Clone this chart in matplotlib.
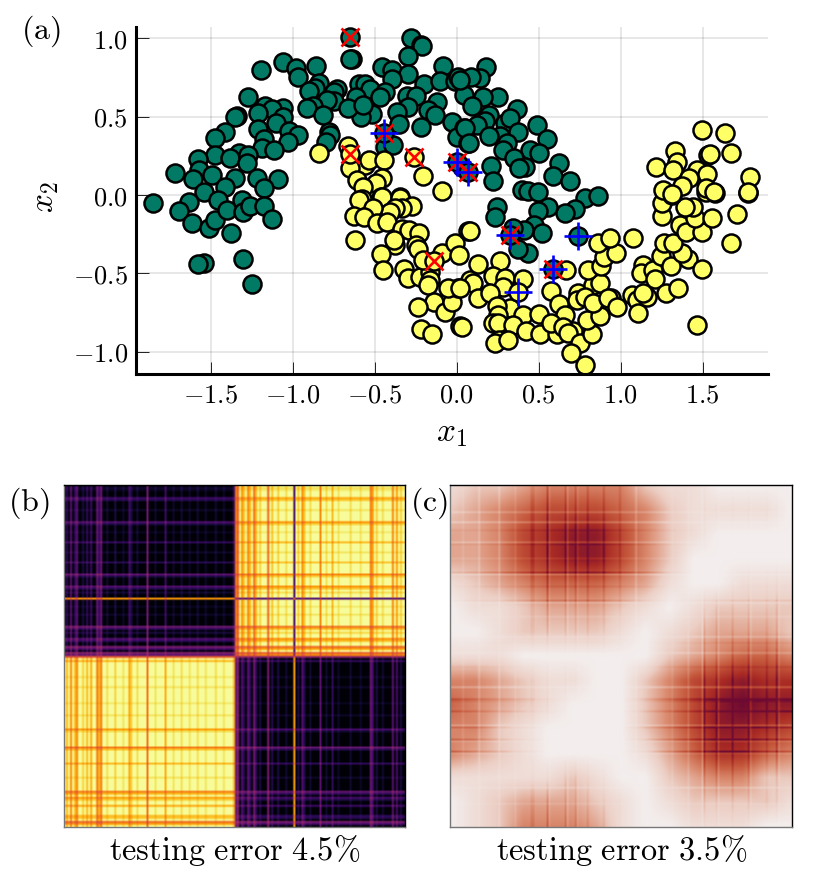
import numpy as np
import matplotlib
matplotlib.use('Agg')
import matplotlib.pyplot as plt
from matplotlib.colors import LinearSegmentedColormap

plt.rcParams['mathtext.fontset'] = 'cm'

# panel (a) points
green_x = [-.28,-.22,-.21,-.295,-.457,-.396,-.295,-.396,-.2,-.085,-.1,-.01,.01,-1.057,-.98,-1.195,-.97,-.858,-.837,-.864,-.9,-.73,-.748,-.748,-.793,-.593,-.559,-.528,-.616,-.437,-.467,-.305,-.248,-.295,-.122,-.177,-.132,-.366,-.35,-.217,-.03,.047,0,.07,-.518,-.585,-.66,-.569,-.874,-.915,-.813,-1.27,-1.169,-1.057,-1.128,-1.209,-1.341,-1.351,-1.057,-1.104,-1.209,-1.02,-.965,-1.026,-1.173,-1.413,-1.474,-1.189,-1.114,-.778,-.772,-.797,-1.327,-1.474,-1.382,-1.27,-1.28,-1.579,-1.717,-1.571,-1.606,-1.49,-1.35,-1.22,-1.087,-1.173,-1.413,-1.54,-1.85,-1.63,-1.693,-1.612,-1.508,-1.474,-1.457,-1.402,-1.311,-1.305,-1.26,-1.173,-1.124,-1.376,-1.301,-1.541,-1.575,-1.25,-.64,-.65,-.437,-.386,.179,.142,.087,.254,.159,.047,.091,.02,.199,.366,.173,.122,.051,.295,.325,.376,.264,.197,.309,.285,.488,.553,.447,.502,.352,.42,.382,.626,.585,.691,.209,.22,.077,.396,.437,.498,.783,.864,.722,.661,.559,.494,.472,.518,.244,.234,.437,.376,.413,.346,.03]
green_y = [1.0,.96,.95,.89,.82,.80,.77,.74,.71,.825,.73,.73,.755,.85,.81,.795,.75,.825,.717,.68,.664,.674,.66,.6,.606,.708,.708,.674,.628,.655,.623,.632,.634,.564,.596,.543,.51,.532,.451,.436,.468,.426,.372,.33,.517,.5,.553,.574,.568,.557,.51,.628,.57,.557,.549,.521,.506,.5,.496,.457,.419,.41,.383,.34,.357,.404,.362,.298,.287,.404,.383,.34,.27,.255,.238,.255,.202,.23,.143,.16,.1,.128,.11,.11,.1,.043,.053,.02,-.053,-.043,-.102,-.177,-.209,-.16,-.032,-.096,-.032,-.106,-.068,-.068,-.155,-.245,-.411,-.432,-.44,-.568,.87,.87,.309,.319,.819,.745,.755,.628,.623,.638,.57,.734,.511,.547,.474,.447,.426,.457,.489,.404,.377,.377,.334,.287,.447,.355,.287,.27,.238,.181,.174,.202,.123,.091,.187,.091,.33,.032,.026,.021,-.021,-.006,-.089,-.113,-.079,-.1,-.191,-.245,-.074,-.138,-.368,-.347,-.223,-.213,.18]
yellow_x = [-.839,-.665,-.559,-.533,-.443,-.65,-.61,-.453,-.492,-.262,-.203,-.087,-.569,-.463,-.346,-.579,-.593,-.457,-.346,-.274,-.335,-.376,-.407,-.508,-.626,-.563,-.488,-.427,-.335,-.289,-.23,-.618,-.376,-.38,-.25,-.234,-.463,-.447,-.319,-.299,-.224,-.163,-.163,-.173,-.203,-.087,-.01,.014,.067,-.138,-.234,-.071,-.026,.01,-.051,.08,-.22,-.152,.02,.081,.132,.264,.098,.02,.132,.22,.295,.402,.285,.203,.325,.244,.407,.254,.224,.254,.346,.421,.508,.502,.573,.624,.661,.61,.707,.26,.234,.315,.03,.573,.65,.681,.752,.697,.783,.827,.793,.874,.742,.833,.874,.803,.878,.898,.972,.864,.935,.667,.732,.782,.833,.941,.925,.976,1.067,1.098,1.104,1.159,1.138,1.073,1.134,1.124,1.2,1.209,1.276,1.352,1.246,1.305,1.408,1.498,1.372,1.264,1.321,1.362,1.396,1.498,1.453,1.559,1.443,1.392,1.254,1.254,1.311,1.711,1.671,1.467,1.518,1.575,1.778,1.496,1.634,1.673,1.333,1.346,1.216,1.321,1.53,1.545,1.467,1.524,1.419,1.376,1.26,1.311,1.518,1.569,1.789,1.775,-.65,-.136,.376]
yellow_y = [.266,.315,.191,.223,.223,.17,.096,.106,.074,.245,.123,.026,.053,-.01,-.01,-.026,-.032,-.015,-.021,-.068,-.085,-.085,-.106,-.085,-.132,-.143,-.177,-.17,-.217,-.223,-.245,-.287,-.319,-.287,-.319,-.345,-.379,-.479,-.472,-.532,-.521,-.489,-.543,-.574,-.415,-.372,-.304,-.383,-.228,-.681,-.713,-.749,-.681,-.591,-.591,-.543,-.857,-.887,-.836,-.228,-.44,-.419,-.56,-.596,-.655,-.515,-.528,-.538,-.585,-.628,-.723,-.706,-.766,-.766,-.819,-.819,-.83,-.868,-.889,-.762,-.613,-.698,-.766,-.887,-.868,-.926,-.947,-.926,-.84,-.819,-.84,-.883,-.947,-1.011,-1.085,-.889,-.798,-.772,-.628,-.574,-.564,-.479,-.453,-.394,-.372,-.304,-.277,-.479,-.67,-.649,-.691,-.66,-.66,-.713,-.638,-.67,-.751,-.649,-.628,-.277,-.447,-.5,-.479,-.538,-.628,-.591,-.387,-.453,-.409,-.474,-.372,-.309,-.309,-.191,-.238,-.238,-.149,-.149,-.079,-.074,-.134,-.049,0,-.121,-.309,-.828,.021,.01,.011,.415,.398,.27,.283,.213,.177,.16,.255,.262,.16,.134,.106,.057,.032,.006,.043,.017,.117,.017,.262,-.419,-.617]
# support points drawn over the rest
marked_x = [-.65,-.443,0,.071,.325,.742,.589]
marked_y = [1.01,.398,.213,.145,-.255,-.262,-.472]
red_x = [-.65,-.443,-.65,-.262,0,.071,.325,.589,-.136]
red_y = [1.01,.398,.262,.245,.213,.145,-.255,-.472,-.419]
blue_x = [-.443,0,.071,.325,.742,.589,.376]
blue_y = [.398,.213,.145,-.255,-.262,-.472,-.617]

xticks = [-1.5,-1.0,-0.5,0.0,0.5,1.0,1.5]
yticks = [-1.0,-0.5,0.0,0.5,1.0]

# panel (b): row and column weights, sign gives the class
n_b = 170
split_b = 85
row_idx_b = [1,2,6,7,12,18,19,23,28,33,38,44,45,50,51,53,56,60,64,70,71,73,76,77,80,81,83,84,85,87,95,100,108,114,121,122,130,131,138,145,152,153,155,156,159,164,165,167,168]
row_w_b = [.85,.9,.65,.75,.88,.55,.8,.9,.7,.88,.75,.5,.8,.55,.75,.85,-.55,.9,.88,.4,.7,.82,.55,.7,.35,.6,.3,.5,.3,.7,.9,.88,.9,.88,.6,.85,.45,.75,.7,.88,.45,.7,.6,.8,.65,.7,.75,.35,.6]
col_idx_b = [1,3,5,6,9,11,13,16,17,18,21,25,29,32,33,36,41,45,50,54,58,62,66,70,75,79,84,85,86,88,89,91,92,94,95,97,101,103,106,110,114,116,118,119,122,127,130,133,136,142,147,152,153,155,158,163,165,167]
col_w_b = [.7,.5,.7,.5,.8,.7,.65,.45,.7,.45,.85,.8,.88,.65,.8,.85,.4,.88,.65,.88,.85,.88,.85,.88,.85,.88,.7,.45,.3,.55,.75,.5,.7,.4,.7,.8,.35,.75,.8,.85,-.6,.8,.55,.75,.85,.5,.85,.7,.88,.85,.88,.45,.6,.8,.85,.5,.6,.8]

# panel (c): coarse strength grid 0-9, then row and column line factors
grid_c = ['122344442110000',
          '234566654211110',
          '334678864210000',
          '334678864200000',
          '123455543100111',
          '011233321012222',
          '001222210123332',
          '111000000234554',
          '443211002467877',
          '543210002468988',
          '442100002468876',
          '432100001357754',
          '111112100234422',
          '012333210122221',
          '012444310011100']
row_idx_c = [13,18,22,28,29,36,43,44,50,57,58,65,75,78,83,90,100,106,107,112,119,120,126,127,132,133,150,158]
row_f_c = [.8,.75,1.1,.8,1.1,.9,1.25,.8,1.1,1.25,.8,.9,.8,1.1,.8,1.1,.75,1.25,1.1,1.2,.8,1.2,1.25,.9,1.3,.9,.8,.9]
col_idx_c = [6,14,24,32,40,41,48,49,57,58,62,63,68,76,84,92,110,118,125,126,132,133,140,148,149,157,162,163]
col_f_c = [.9,.8,.8,.9,1.15,1.15,1.3,.9,1.2,.85,1.2,.9,1.2,1.2,1.15,.8,.9,.85,.8,1.25,1.15,.85,1.2,1.2,.85,1.15,1.3,.85]

GREEN = '#007a64'
YELLOW = '#ffff66'
W, H = 822.0, 872.0

def make_axes(fig, left, top, right, bottom):
    return fig.add_axes([left/W, 1-bottom/H, (right-left)/W, (bottom-top)/H])

def weights(idx, w, n, base):
    out = np.full(n, base)
    out[idx] = w
    return out

def matrix_b():
    r = weights(row_idx_b, row_w_b, n_b, 0.985)
    c = weights(col_idx_b, col_w_b, n_b, 0.985)
    r[:split_b] *= -1
    c[split_b:] *= -1
    return 0.5 + 0.5*np.outer(r, c)

def matrix_c():
    grid = np.array([[int(ch) for ch in row] for row in grid_c], dtype=float)/9
    n = n_b
    nodes = np.linspace(0, 1, grid.shape[0])
    pos = np.linspace(0, 1, n)
    fine = np.array([np.interp(pos, nodes, row) for row in grid])
    fine = np.array([np.interp(pos, nodes, col) for col in fine.T]).T
    fr = weights(row_idx_c, row_f_c, n, 1.0)
    fc = weights(col_idx_c, col_f_c, n, 1.0)
    return fine*np.outer(fr, fc)

fig = plt.figure(figsize=(8.22, 8.72), dpi=100)

# (a) scatter
ax = make_axes(fig, 136, 26.7, 767.7, 374.3)
ax.plot(green_x, green_y, 'o', ms=13, mfc=GREEN, mec='k', mew=1.8, ls='none', clip_on=False)
ax.plot(yellow_x, yellow_y, 'o', ms=13, mfc=YELLOW, mec='k', mew=1.8, ls='none', clip_on=False)
ax.plot(marked_x, marked_y, 'o', ms=13, mfc=GREEN, mec='k', mew=1.8, ls='none', clip_on=False)
ax.plot(red_x, red_y, 'x', ms=13.5, mec='#ff0000', mew=1.9, ls='none', clip_on=False)
ax.plot(blue_x, blue_y, '+', ms=20, mec='#0000ff', mew=1.9, ls='none', clip_on=False)
ax.set_xlim(-1.955, 1.897)
ax.set_ylim(-1.144, 1.074)
ax.set_xticks(xticks)
ax.set_yticks(yticks)
ax.set_xticklabels(['$%.1f$' % t for t in xticks], fontsize=19)
ax.set_yticklabels(['$%.1f$' % t for t in yticks], fontsize=19)
ax.tick_params(direction='in', length=9, width=0.6, pad=6)
ax.grid(True, color='#000000', alpha=0.12, lw=1.1)
ax.set_axisbelow(True)
for s in ['top', 'right']:
    ax.spines[s].set_visible(False)
for s in ['left', 'bottom']:
    ax.spines[s].set_linewidth(2.2)
fig.text(451/W, 1-432/H, '$x_1$', fontsize=24, ha='center', va='center')
fig.text(44/W, 1-197/H, '$x_2$', fontsize=24, ha='center', va='center', rotation=90)
fig.text(41/W, 1-31/H, r'$\mathrm{(a)}$', fontsize=23, ha='center', va='center')
fig.text(29/W, 1-503/H, r'$\mathrm{(b)}$', fontsize=23, ha='center', va='center')
fig.text(429/W, 1-503/H, r'$\mathrm{(c)}$', fontsize=23, ha='center', va='center')

# (b) kernel matrix
ax_b = make_axes(fig, 64, 485, 405, 826.7)
ax_b.imshow(matrix_b(), cmap='inferno', vmin=0, vmax=1, aspect='auto', interpolation='bilinear')

# (c) second matrix
cmap_c = LinearSegmentedColormap.from_list('amp_c', ['#f3eeed', '#eccfc5', '#dc9176', '#c5583c', '#a92a24', '#6e0a32'])
ax_c = make_axes(fig, 450, 485, 791.7, 826.7)
ax_c.imshow(matrix_c(), cmap=cmap_c, vmin=0, vmax=1, aspect='auto', interpolation='bilinear')

for a in [ax_b, ax_c]:
    a.set_xticks([])
    a.set_yticks([])
    for s in a.spines.values():
        s.set_linewidth(1.0)
    a.spines['left'].set_color('#777777')
    a.spines['bottom'].set_color('#777777')

fig.text(234.5/W, 1-850/H, r'$\mathrm{testing\ error\ 4.5\%}$', fontsize=23.3, ha='center', va='center')
fig.text(622/W, 1-850/H, r'$\mathrm{testing\ error\ 3.5\%}$', fontsize=23.3, ha='center', va='center')

fig.savefig('out.png', dpi=100)
